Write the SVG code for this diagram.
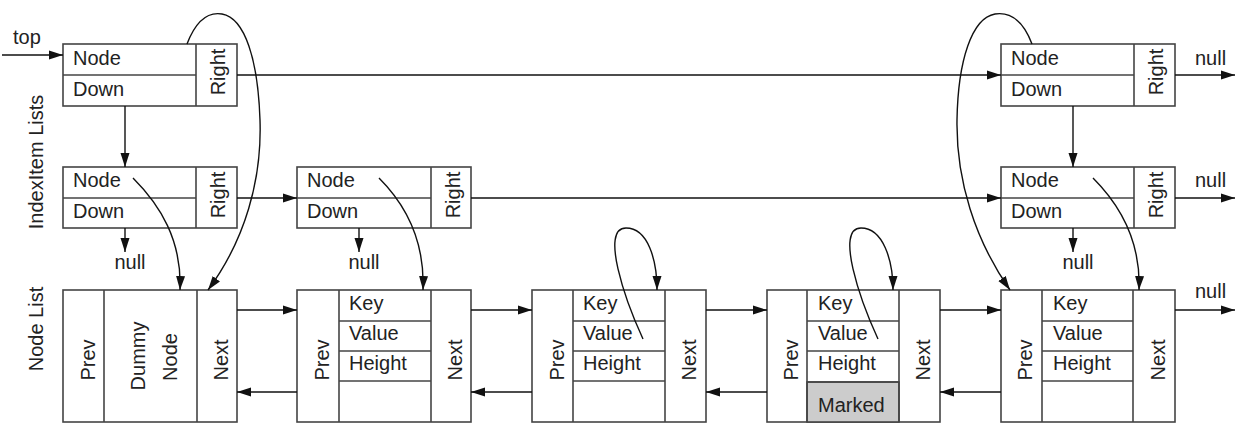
<svg xmlns="http://www.w3.org/2000/svg" width="1242" height="433" viewBox="0 0 1242 433">
<style>
text{font-family:"Liberation Sans",Arial,sans-serif;font-size:20px;fill:#222}
.box{fill:#fff;stroke:#444;stroke-width:1.6}
.ln{fill:none;stroke:#444;stroke-width:1.6}
.mk{fill:#ccc;stroke:#444;stroke-width:1.6}
.c{fill:none;stroke:#111;stroke-width:1.4}
.m{text-anchor:middle}
</style>
<defs>
<marker id="ah" markerUnits="userSpaceOnUse" markerWidth="15" markerHeight="10" refX="14" refY="5" orient="auto">
<path d="M0,0.5 L14,5 L0,9.5 Z" fill="#111"/>
</marker>
</defs>
<g id="labels">
<text class="m" transform="translate(43,162) rotate(-90)">IndexItem Lists</text>
<text class="m" transform="translate(43,329) rotate(-90)">Node List</text>
<text x="13" y="44">top</text>
</g>
<g id="idx-top-left">
<rect class="box" x="63" y="44" width="174" height="62"/>
<line class="ln" x1="63" y1="75" x2="196" y2="75"/>
<line class="ln" x1="196" y1="44" x2="196" y2="106"/>
<text x="73" y="65">Node</text><text x="73" y="96">Down</text>
<text class="m" transform="translate(225,72) rotate(-90)">Right</text>
</g>
<g id="idx-top-right">
<rect class="box" x="1001" y="44" width="174" height="62"/>
<line class="ln" x1="1001" y1="75" x2="1134" y2="75"/>
<line class="ln" x1="1134" y1="44" x2="1134" y2="106"/>
<text x="1011" y="65">Node</text><text x="1011" y="96">Down</text>
<text class="m" transform="translate(1163,72) rotate(-90)">Right</text>
</g>
<g id="idx-mid-1">
<rect class="box" x="63" y="167" width="174" height="61"/>
<line class="ln" x1="63" y1="198" x2="196" y2="198"/>
<line class="ln" x1="196" y1="167" x2="196" y2="228"/>
<text x="73" y="187">Node</text><text x="73" y="218">Down</text>
<text class="m" transform="translate(225,195) rotate(-90)">Right</text>
</g>
<g id="idx-mid-2">
<rect class="box" x="297" y="167" width="174" height="61"/>
<line class="ln" x1="297" y1="198" x2="431" y2="198"/>
<line class="ln" x1="431" y1="167" x2="431" y2="228"/>
<text x="307" y="187">Node</text><text x="307" y="218">Down</text>
<text class="m" transform="translate(460,195) rotate(-90)">Right</text>
</g>
<g id="idx-mid-3">
<rect class="box" x="1001" y="167" width="174" height="61"/>
<line class="ln" x1="1001" y1="198" x2="1134" y2="198"/>
<line class="ln" x1="1134" y1="167" x2="1134" y2="228"/>
<text x="1011" y="187">Node</text><text x="1011" y="218">Down</text>
<text class="m" transform="translate(1163,195) rotate(-90)">Right</text>
</g>
<g id="node-dummy">
<rect class="box" x="63" y="290" width="174" height="132"/>
<line class="ln" x1="104" y1="290" x2="104" y2="422"/>
<line class="ln" x1="197" y1="290" x2="197" y2="422"/>
<text class="m" transform="translate(95,360) rotate(-90)">Prev</text>
<text class="m" transform="translate(145,356) rotate(-90)">Dummy</text>
<text class="m" transform="translate(177,357) rotate(-90)">Node</text>
<text class="m" transform="translate(228,360) rotate(-90)">Next</text>
</g>
<g id="node-2">
<rect class="box" x="297" y="290" width="174" height="132"/>
<line class="ln" x1="339" y1="290" x2="339" y2="422"/>
<line class="ln" x1="431" y1="290" x2="431" y2="422"/>
<line class="ln" x1="339" y1="321" x2="431" y2="321"/>
<line class="ln" x1="339" y1="351" x2="431" y2="351"/>
<line class="ln" x1="339" y1="381" x2="431" y2="381"/>
<text x="349" y="310">Key</text><text x="349" y="340">Value</text><text x="349" y="370">Height</text>
<text class="m" transform="translate(329,360) rotate(-90)">Prev</text>
<text class="m" transform="translate(462,360) rotate(-90)">Next</text>
</g>
<g id="node-3">
<rect class="box" x="532" y="290" width="174" height="132"/>
<line class="ln" x1="573" y1="290" x2="573" y2="422"/>
<line class="ln" x1="665" y1="290" x2="665" y2="422"/>
<line class="ln" x1="573" y1="321" x2="665" y2="321"/>
<line class="ln" x1="573" y1="351" x2="665" y2="351"/>
<line class="ln" x1="573" y1="381" x2="665" y2="381"/>
<text x="583" y="310">Key</text><text x="583" y="340">Value</text><text x="583" y="370">Height</text>
<text class="m" transform="translate(564,360) rotate(-90)">Prev</text>
<text class="m" transform="translate(696,360) rotate(-90)">Next</text>
</g>
<g id="node-4">
<rect class="box" x="767" y="290" width="173" height="132"/>
<rect class="mk" x="807" y="382" width="92" height="40"/>
<line class="ln" x1="807" y1="290" x2="807" y2="422"/>
<line class="ln" x1="899" y1="290" x2="899" y2="422"/>
<line class="ln" x1="807" y1="321" x2="899" y2="321"/>
<line class="ln" x1="807" y1="351" x2="899" y2="351"/>
<line class="ln" x1="807" y1="382" x2="899" y2="382"/>
<text x="818" y="310">Key</text><text x="818" y="340">Value</text><text x="818" y="370">Height</text>
<text x="818" y="412">Marked</text>
<text class="m" transform="translate(798,360) rotate(-90)">Prev</text>
<text class="m" transform="translate(930,360) rotate(-90)">Next</text>
</g>
<g id="node-5">
<rect class="box" x="1001" y="290" width="174" height="132"/>
<line class="ln" x1="1042" y1="290" x2="1042" y2="422"/>
<line class="ln" x1="1133" y1="290" x2="1133" y2="422"/>
<line class="ln" x1="1042" y1="321" x2="1133" y2="321"/>
<line class="ln" x1="1042" y1="351" x2="1133" y2="351"/>
<line class="ln" x1="1042" y1="381" x2="1133" y2="381"/>
<text x="1053" y="310">Key</text><text x="1053" y="340">Value</text><text x="1053" y="370">Height</text>
<text class="m" transform="translate(1032,360) rotate(-90)">Prev</text>
<text class="m" transform="translate(1165,360) rotate(-90)">Next</text>
</g>
<g id="nulls">
<text x="1195" y="65">null</text>
<text x="1195" y="187">null</text>
<text x="1195" y="298">null</text>
<text class="m" x="130" y="269">null</text>
<text class="m" x="364" y="269">null</text>
<text class="m" x="1078" y="269">null</text>
</g>
<g id="connectors" marker-end="url(#ah)">
<path class="c" d="M2,55 L63,55"/>
<path class="c" d="M237,75 L1001,75"/>
<path class="c" d="M1175,75 L1235,75"/>
<path class="c" d="M125,106 L125,167"/>
<path class="c" d="M1073,106 L1073,167"/>
<path class="c" d="M237,198 L297,198"/>
<path class="c" d="M471,198 L1001,198"/>
<path class="c" d="M1175,198 L1235,198"/>
<path class="c" d="M125,228 L125,252"/>
<path class="c" d="M359,228 L359,252"/>
<path class="c" d="M1073,228 L1073,252"/>
<path class="c" d="M237,310 L297,310"/>
<path class="c" d="M471,310 L532,310"/>
<path class="c" d="M706,310 L767,310"/>
<path class="c" d="M940,310 L1001,310"/>
<path class="c" d="M1175,310 L1235,310"/>
<path class="c" d="M297,392 L237,392"/>
<path class="c" d="M532,392 L471,392"/>
<path class="c" d="M767,392 L706,392"/>
<path class="c" d="M1001,392 L940,392"/>
<path class="c" d="M187,44 C197,18 210,12 222,14 C245,18 258,60 260,120 C262,180 245,240 208,290"/>
<path class="c" d="M1032,44 C1022,18 1008,12 995,14 C972,18 958,60 957,120 C956,180 975,240 1010,290"/>
<path class="c" d="M133,178 C160,205 182,240 180,290"/>
<path class="c" d="M379,178 C406,205 425,240 423,290"/>
<path class="c" d="M1093,178 C1120,205 1141,240 1139,290"/>
<path class="c" d="M643,339 C625,300 600,228 626,228 C648,228 657,260 657,290"/>
<path class="c" d="M878,339 C860,300 835,228 861,228 C883,228 893,260 893,290"/>
</g>
</svg>
